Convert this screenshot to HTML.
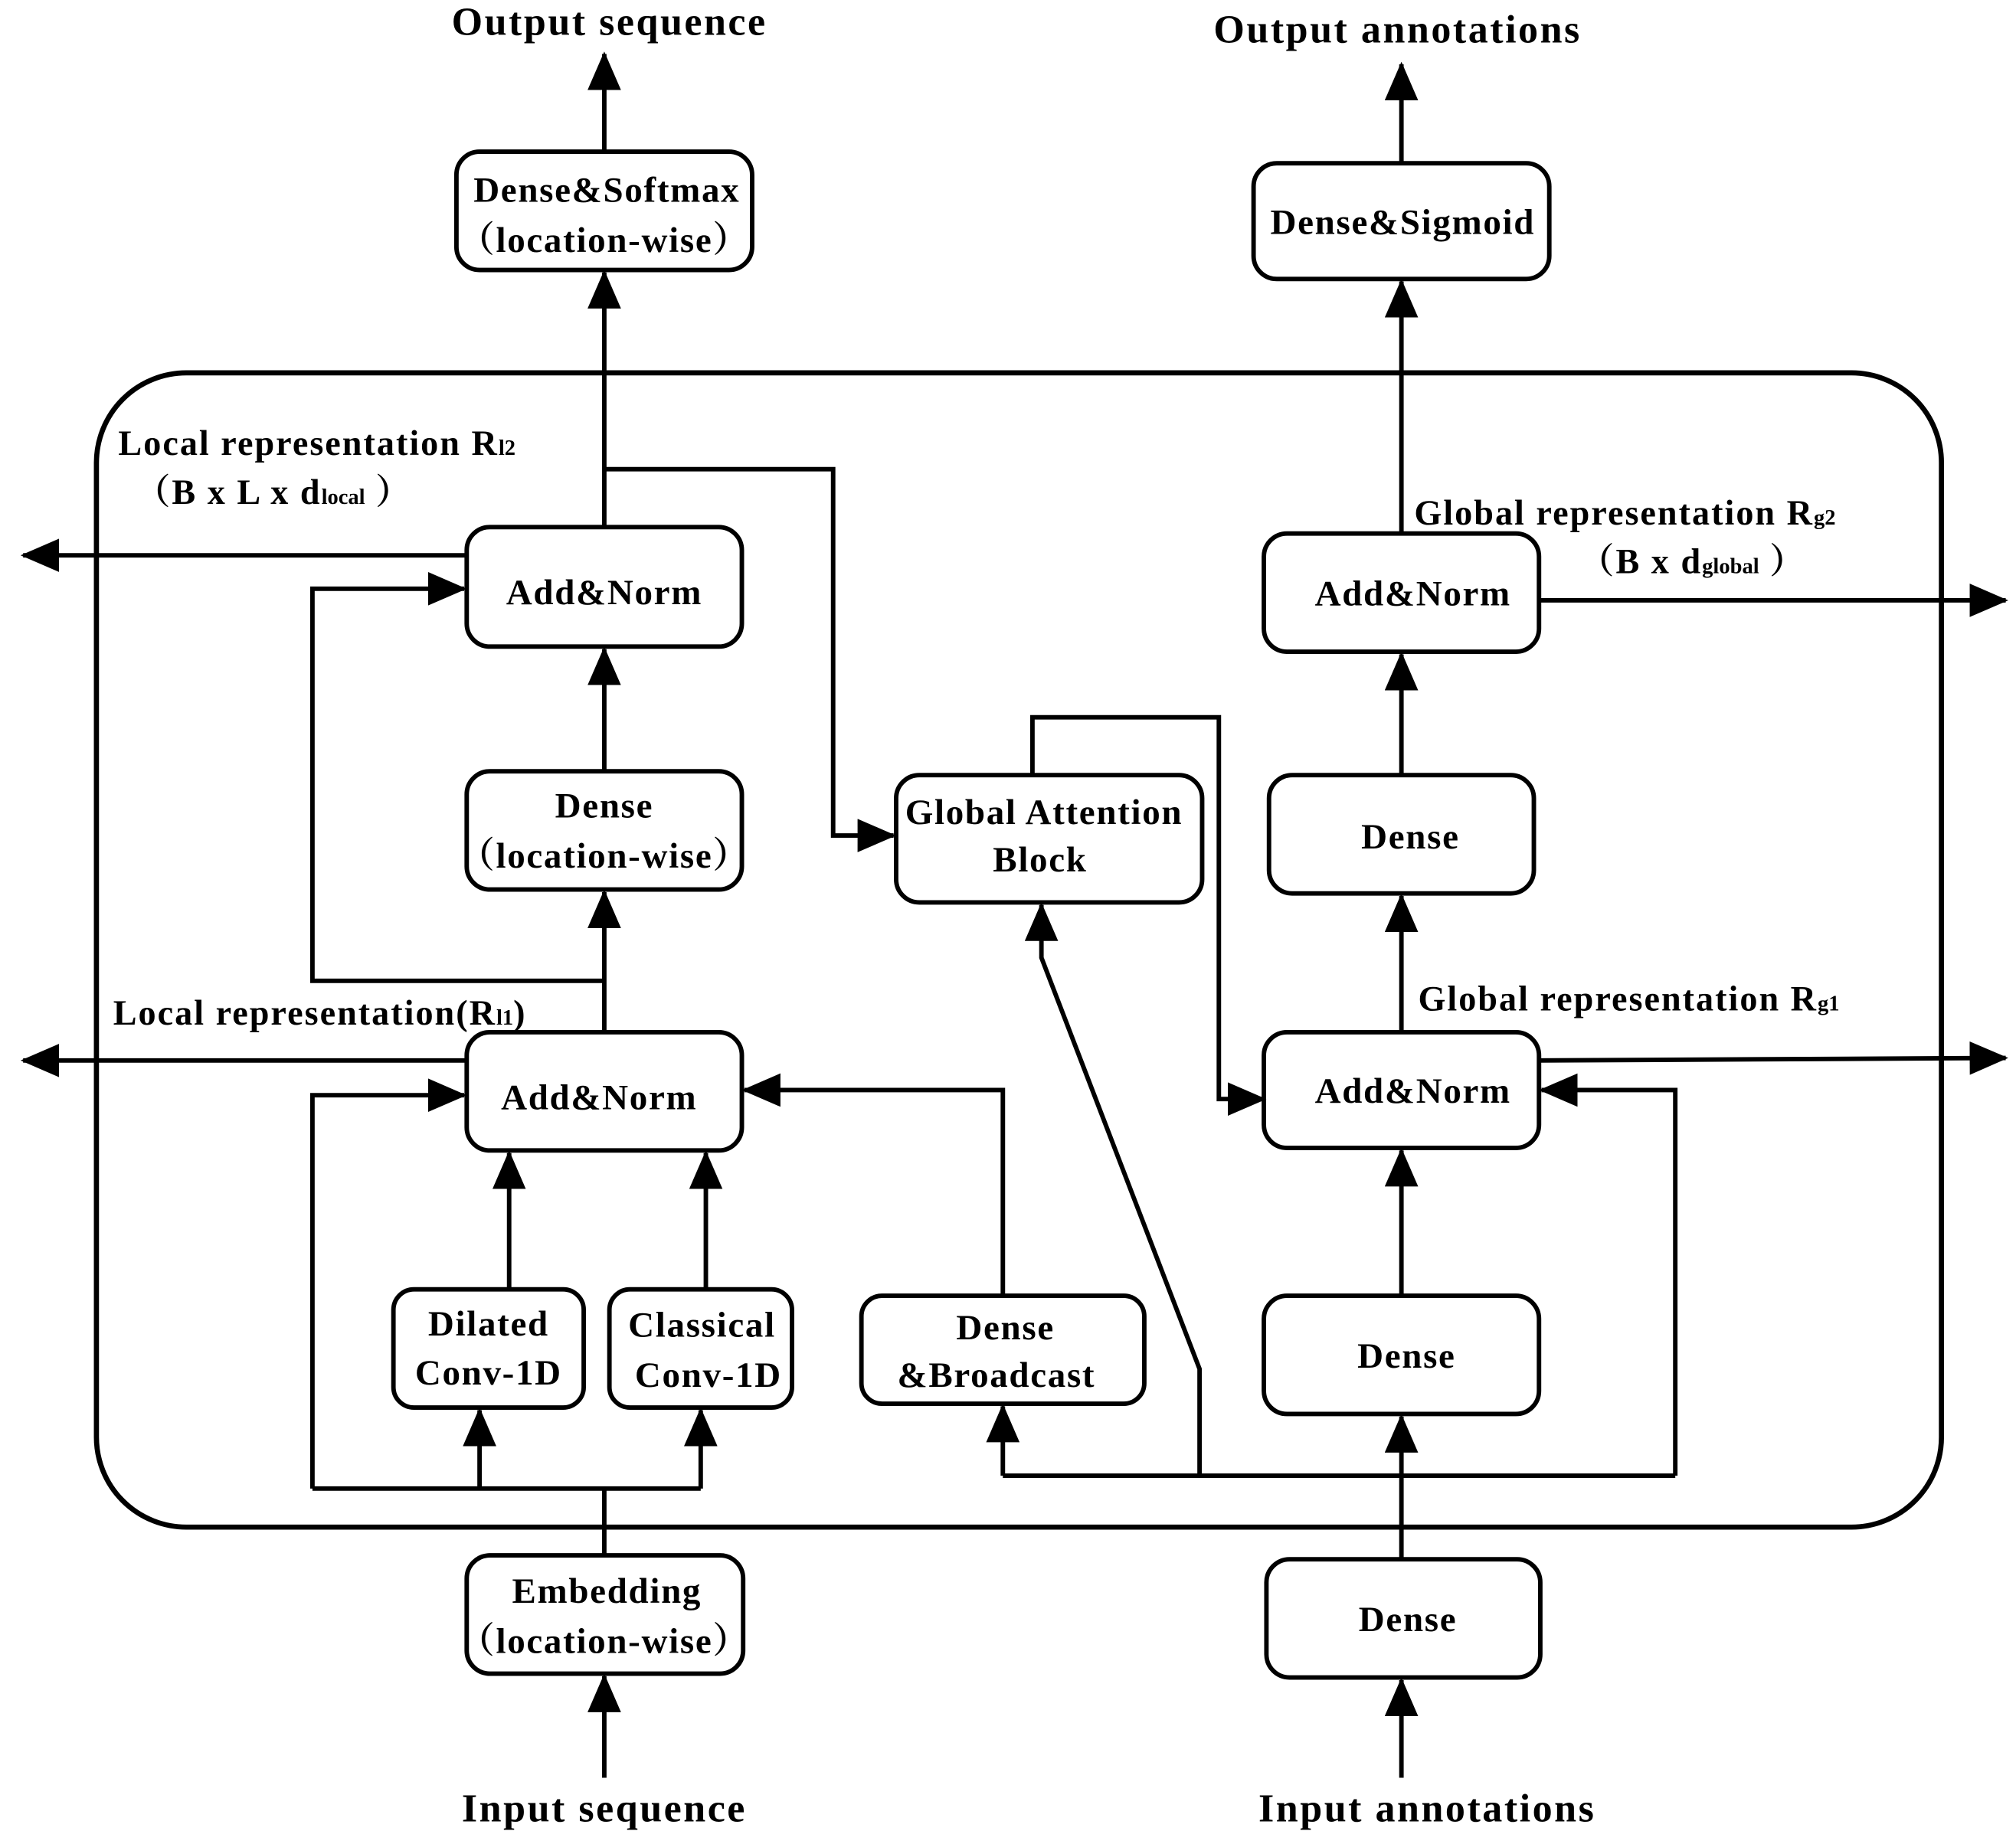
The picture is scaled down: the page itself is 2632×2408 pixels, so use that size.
<!DOCTYPE html>
<html><head><meta charset="utf-8"><style>
html,body{margin:0;padding:0;background:#fff;}
svg{display:block;}
text{font-family:"Liberation Serif","Noto Serif CJK SC",serif;font-weight:bold;fill:#000;}
</style></head><body>
<svg width="2632" height="2408" viewBox="0 0 1568 1434.5" xmlns="http://www.w3.org/2000/svg">
<defs>
<marker id="a" markerUnits="userSpaceOnUse" markerWidth="30" markerHeight="26" refX="28" refY="13" orient="auto">
<path d="M0,0 L30,13 L0,26 Z" fill="#000"/>
</marker>
</defs>
<g fill="none" stroke="#000" stroke-width="4">
<rect x="75" y="290" width="1435" height="898" rx="70"/>
</g>
<g fill="#fff" stroke="#000" stroke-width="3.5">
<rect x="355" y="118" width="230" height="92" rx="18"/>
<rect x="975" y="127" width="230" height="90" rx="18"/>
<rect x="363" y="410" width="214" height="93" rx="18"/>
<rect x="363" y="600" width="214" height="92" rx="18"/>
<rect x="363" y="803" width="214" height="92" rx="18"/>
<rect x="697" y="603" width="238" height="99" rx="18"/>
<rect x="306" y="1003" width="148" height="92" rx="16"/>
<rect x="474" y="1003" width="142" height="92" rx="16"/>
<rect x="670" y="1008" width="220" height="84" rx="16"/>
<rect x="983" y="415" width="214" height="92" rx="18"/>
<rect x="987" y="603" width="206" height="92" rx="18"/>
<rect x="983" y="803" width="214" height="90" rx="18"/>
<rect x="983" y="1008" width="214" height="92" rx="18"/>
<rect x="985" y="1213" width="213" height="92" rx="18"/>
<rect x="363" y="1210" width="215" height="92" rx="18"/>
</g>
<g fill="none" stroke="#000" stroke-width="3.5">
<line x1="470" y1="118" x2="470" y2="42" marker-end="url(#a)"/>
<line x1="1090" y1="127" x2="1090" y2="50" marker-end="url(#a)"/>
<line x1="470" y1="410" x2="470" y2="212" marker-end="url(#a)"/>
<line x1="1090" y1="415" x2="1090" y2="219" marker-end="url(#a)"/>
<line x1="363" y1="432" x2="18" y2="432" marker-end="url(#a)"/>
<polyline points="470,763 243,763 243,458 361,458" marker-end="url(#a)"/>
<line x1="470" y1="600" x2="470" y2="505" marker-end="url(#a)"/>
<line x1="470" y1="803" x2="470" y2="694" marker-end="url(#a)"/>
<polyline points="470,365 648,365 648,650 695,650" marker-end="url(#a)"/>
<line x1="363" y1="825" x2="18" y2="825" marker-end="url(#a)"/>
<polyline points="243,1158 243,852 361,852" marker-end="url(#a)"/>
<polyline points="243,1158 545,1158"/>
<line x1="470" y1="1210" x2="470" y2="1158"/>
<line x1="373" y1="1158" x2="373" y2="1097" marker-end="url(#a)"/>
<line x1="545" y1="1158" x2="545" y2="1097" marker-end="url(#a)"/>
<line x1="396" y1="1003" x2="396" y2="897" marker-end="url(#a)"/>
<line x1="549" y1="1003" x2="549" y2="897" marker-end="url(#a)"/>
<polyline points="780,1008 780,848 579,848" marker-end="url(#a)"/>
<line x1="780" y1="1148" x2="1303" y2="1148"/>
<line x1="780" y1="1148" x2="780" y2="1094" marker-end="url(#a)"/>
<polyline points="1303,1148 1303,848 1199,848" marker-end="url(#a)"/>
<polyline points="933,1148 933,1065 810,745 810,704" marker-end="url(#a)"/>
<polyline points="803,603 803,558 948,558 948,855 983,855" marker-end="url(#a)"/>
<line x1="1090" y1="1008" x2="1090" y2="895" marker-end="url(#a)"/>
<line x1="1090" y1="1213" x2="1090" y2="1102" marker-end="url(#a)"/>
<line x1="1090" y1="1383" x2="1090" y2="1307" marker-end="url(#a)"/>
<line x1="470" y1="1383" x2="470" y2="1304" marker-end="url(#a)"/>
<line x1="1090" y1="803" x2="1090" y2="697" marker-end="url(#a)"/>
<line x1="1090" y1="603" x2="1090" y2="509" marker-end="url(#a)"/>
<line x1="1197" y1="467" x2="1560" y2="467" marker-end="url(#a)"/>
<line x1="1197" y1="825" x2="1560" y2="823" marker-end="url(#a)"/>
</g>
<g font-size="28" text-anchor="middle" letter-spacing="1">
<text x="474" y="27" font-size="31" letter-spacing="1.5">Output sequence</text>
<text x="1087" y="33" font-size="31" letter-spacing="1.5">Output annotations</text>
<text x="472" y="157">Dense&amp;Softmax</text>
<text x="470" y="196">（location-wise）</text>
<text x="1091" y="182">Dense&amp;Sigmoid</text>
<text x="470" y="470">Add&amp;Norm</text>
<text x="470" y="636">Dense</text>
<text x="470" y="675">（location-wise）</text>
<text x="466" y="863">Add&amp;Norm</text>
<text x="812" y="641">Global Attention</text>
<text x="809" y="678">Block</text>
<text x="380" y="1039">Dilated</text>
<text x="380" y="1077">Conv-1D</text>
<text x="546" y="1040">Classical</text>
<text x="551" y="1079">Conv-1D</text>
<text x="782" y="1042">Dense</text>
<text x="775" y="1079">&amp;Broadcast</text>
<text x="1099" y="471">Add&amp;Norm</text>
<text x="1097" y="660">Dense</text>
<text x="1099" y="858">Add&amp;Norm</text>
<text x="1094" y="1064">Dense</text>
<text x="1095" y="1269">Dense</text>
<text x="472" y="1247">Embedding</text>
<text x="470" y="1286">（location-wise）</text>
<text x="470" y="1417" font-size="31" letter-spacing="1.5">Input sequence</text>
<text x="1110" y="1417" font-size="31" letter-spacing="1.5">Input annotations</text>
</g>
<g font-size="27.5" letter-spacing="1.2">
<text x="92" y="354">Local representation R<tspan font-size="17" letter-spacing="0">l2</tspan></text>
<text x="105" y="392">（B x L x d<tspan font-size="17" letter-spacing="0">local</tspan> ）</text>
<text x="88" y="797">Local representation(R<tspan font-size="17" letter-spacing="0">l1</tspan>)</text>
<text x="1100" y="408">Global representation R<tspan font-size="17" letter-spacing="0">g2</tspan></text>
<text x="1228" y="446">（B x d<tspan font-size="17" letter-spacing="0">global</tspan> ）</text>
<text x="1103" y="786">Global representation R<tspan font-size="17" letter-spacing="0">g1</tspan></text>
</g>
</svg>
</body></html>
